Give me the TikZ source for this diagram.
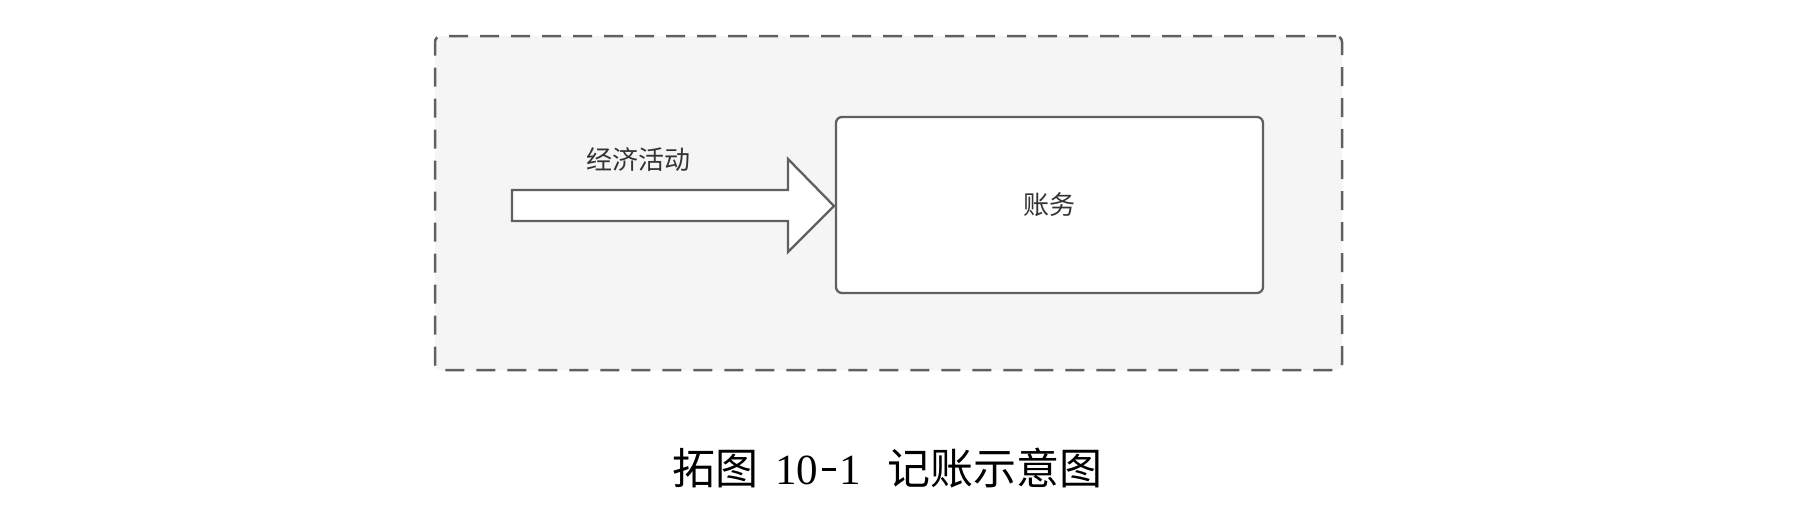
\documentclass[tikz,border=0pt]{standalone}
\usepackage{fontspec}
\newfontfamily\cjkfont{Noto Sans CJK SC}
\newfontfamily\numfont{Liberation Serif}
\definecolor{edge}{HTML}{606060}
\definecolor{panel}{HTML}{F5F5F5}
\definecolor{ink}{HTML}{333333}
\newcommand{\hw}[1]{\makebox[0.5em][c]{#1}}
\tikzset{
  panelbox/.style={draw=edge, fill=panel, line width=2.5pt, dash pattern=on 19pt off 12pt, rounded corners=6pt, minimum width=907pt, minimum height=334pt, inner sep=0pt},
  mainbox/.style={draw=edge, fill=white, line width=2.3pt, rounded corners=6pt, minimum width=427pt, minimum height=176pt, font=\cjkfont\fontsize{26pt}{30pt}\selectfont, text=ink},
  fatarrow/.style={draw=edge, fill=white, line width=2.3pt, line join=miter},
  lbl/.style={font=\cjkfont\fontsize{26pt}{30pt}\selectfont, text=ink, inner sep=0pt},
  captext/.style={font=\cjkfont\fontsize{43pt}{48pt}\selectfont, text=black, inner sep=0pt}
}
\begin{document}
\begin{tikzpicture}[x=1pt,y=-1pt]
\useasboundingbox[fill=white] (0,0) rectangle (1796,512);
\node[panelbox] (outer) at (888.5,203) {};
\node[mainbox] (box) at (1049.5,205) {账务};
\coordinate (tip) at (834,206);
\draw[fatarrow] (512,190) -- (788,190) -- (788,159) -- (tip) -- (788,252) -- (788,221) -- (512,221) -- cycle;
\node[lbl] (act) at (638,160) {经济活动};
\node[captext] (cap) at (887,468) {拓图\hspace{0.4em}{\numfont\hw{1}\hw{0}\hw{\rule[0.31em]{14pt}{2.8pt}}\hw{1}}\hspace{0.6em}记账示意图};
\end{tikzpicture}
\end{document}
